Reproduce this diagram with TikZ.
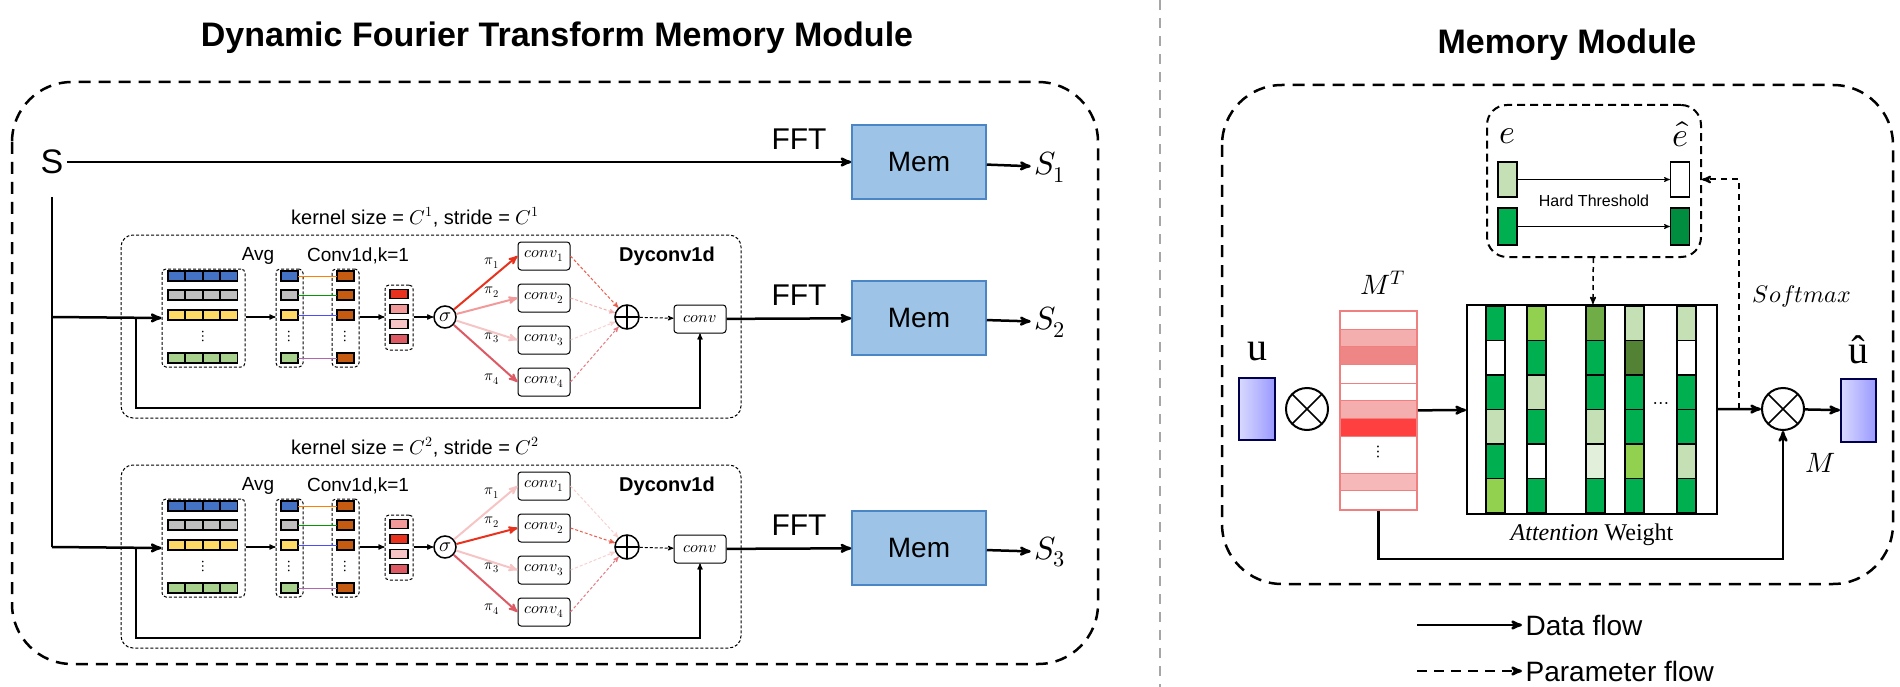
\documentclass[tikz,border=0pt]{standalone}
\usepackage{fontspec}
\usepackage{unicode-math}
\setmainfont{Liberation Sans}
\setmathfont{Latin Modern Math}
\newfontfamily\serif{Liberation Serif}
\usetikzlibrary{arrows,positioning}

\definecolor{memfill}{HTML}{9DC3E6}
\definecolor{memline}{HTML}{4A86C5}
\definecolor{cblue}{HTML}{4472C4}
\definecolor{cgray}{HTML}{BFBFBF}
\definecolor{cyel}{HTML}{FFD966}
\definecolor{cgrn}{HTML}{A9D18E}
\definecolor{cbrown}{HTML}{C55A11}
\definecolor{rstrong}{HTML}{E8321E}
\definecolor{rmid}{HTML}{DD5A64}
\definecolor{rpink}{HTML}{F29A9A}
\definecolor{rlight}{HTML}{F6C4C4}
\definecolor{dk}{HTML}{00B050}
\definecolor{md}{HTML}{92D050}
\definecolor{lt}{HTML}{C5E0B4}
\definecolor{ol}{HTML}{70AD47}
\definecolor{dol}{HTML}{548235}
\definecolor{vl}{HTML}{E2EFDA}
\definecolor{wh}{HTML}{FFFFFF}
\definecolor{mtline}{HTML}{F08080}
\newcommand{\fsz}[1]{\fontsize{#1}{#1}\selectfont}

\begin{document}
\begin{tikzpicture}[x=1pt,y=-1pt,>=stealth',semithick]
	\tikzstyle{mem}=[draw=memline,fill=memfill,line width=1.5pt,minimum width=134pt,minimum height=74pt,font=\fsz{28}]
	\tikzstyle{flow}=[->,line width=2.5pt]
	\tikzstyle{grp}=[draw,densely dashed,rounded corners=4pt,line width=1pt,inner sep=0pt]
	\tikzstyle{ck}=[draw,rounded corners=3pt,line width=1pt,minimum width=52pt,minimum height=28pt,font=\fsz{16},inner sep=0pt]
	\tikzstyle{oplus}=[circle,draw,line width=1.5pt,inner sep=0pt,path picture={\draw[line width=1.5pt] (path picture bounding box.north)--(path picture bounding box.south) (path picture bounding box.west)--(path picture bounding box.east);}]
	\tikzstyle{otimes}=[circle,draw,line width=2pt,inner sep=0pt,minimum size=42pt,path picture={\draw[line width=1.5pt] (path picture bounding box.north west)--(path picture bounding box.south east) (path picture bounding box.south west)--(path picture bounding box.north east);}]
	\useasboundingbox (0,0) rectangle (1900,687);

	% titles and frames
	\node[font=\fsz{34}\bfseries] (t1) at (557,38) {Dynamic Fourier Transform Memory Module};
	\node[font=\fsz{34}\bfseries] (t2) at (1567,45) {Memory Module};
	\draw[gray!70,line width=2pt,dash pattern=on 10pt off 8pt] (1160,0) -- (1160,687);
	\draw[line width=2.5pt,dash pattern=on 12pt off 8pt,rounded corners=60pt] (12,82) rectangle (1098,664);
	\draw[line width=2.5pt,dash pattern=on 12pt off 8pt,rounded corners=60pt] (1222,85) rectangle (1893,584);

	% left module
	\node[font=\fsz{34}] (S) at (52,162) {S};
	\node[mem] (m1) at (919,162) {Mem};
	\node[font=\fsz{30}] (f1) at (799,139) {FFT};
	\node[font=\fsz{32}] (s1) at (1050,167) {$S_1$};
	\draw[flow] (S) -- (m1);
	\draw[flow] (m1) -- (s1);
	\coordinate (b0) at (52,197);
	\coordinate (bend) at (52,547);
	\draw[line width=2.5pt] (b0) -- (bend);

	\foreach \i/\dy/\ra/\rb/\rc/\rd/\pa/\pb/\pc/\pd in
		{1/0/rstrong/rpink/rlight/rmid/rstrong/rpink/rlight/rmid,
		 2/230/rpink/rstrong/rlight/rmid/rlight/rstrong/rlight/rmid}{
	\begin{scope}[yshift=-\dy pt]
		\draw[densely dashed,line width=1pt,rounded corners=12pt] (121,235) rectangle (741,418);
		\node[font=\fsz{20}] (k\i) at (415,217) {kernel size = $C^{\i}$, stride = $C^{\i}$};
		\node[font=\fsz{19}] (avg\i) at (258,256) {Avg};
		\node[font=\fsz{19}] (cd\i) at (358,256) {Conv1d,k=1};
		\node[font=\fsz{20}\bfseries] (dy\i) at (667,256) {Dyconv1d};
		% channel groups
		\node[grp,minimum width=83pt,minimum height=98pt] (g\i) at (203.5,318) {};
		\node[grp,minimum width=27pt,minimum height=98pt] (a\i) at (289.5,318) {};
		\node[grp,minimum width=27pt,minimum height=98pt] (w\i) at (345.5,318) {};
		\node[grp,minimum width=28pt,minimum height=65pt] (r\i) at (399,317.5) {};
		\foreach \yy/\cc/\ll in {276/cblue/orange,295/cgray/green!60!black,315/cyel/blue!70,358/cgrn/violet!60}{
			\foreach \xx in {168,185.5,203,220.5}
				\draw[line width=1.2pt,fill=\cc] (\xx,\yy-5) rectangle +(17,10);
			\draw[line width=1.2pt,fill=\cc] (281,\yy-5) rectangle +(17,10);
			\draw[line width=1.2pt,fill=cbrown] (337,\yy-5) rectangle +(17,10);
			\draw[\ll,line width=0.8pt] (298,\yy) -- (337,\yy);
		}
		\foreach \xx in {203,289.5,345.5}
			\node[font=\fsz{16}] at (\xx,336) {$\vdots$};
		\foreach \yy/\cc in {294/\ra,309/\rb,324/\rc,339/\rd}
			\draw[line width=1.2pt,fill=\cc] (390,\yy-4.5) rectangle +(18,9);
		\node[circle,draw,line width=1.5pt,minimum size=22pt,inner sep=0pt,font=\fsz{20}] (sig\i) at (445,317) {$\sigma$};
		\draw[flow] (52,317) -- (g\i.west);
		\draw[->,line width=1.2pt] (g\i.east |- 0,317) -- (a\i.west |- 0,317);
		\draw[->,line width=1.2pt] (w\i.east |- 0,317) -- (r\i.west |- 0,317);
		\draw[->,line width=1.2pt] (r\i.east |- 0,317) -- (sig\i);
		% dynamic kernels
		\node[oplus,minimum size=24pt] (op\i) at (627,317) {};
		\node[ck] (cv\i) at (700,319) {$conv$};
		\foreach \n/\yy/\py/\cc in {1/256/263/\pa,2/298/292/\pb,3/340/338/\pc,4/382/379/\pd}{
			\node[ck] (c\i\n) at (544,\yy) {$conv_{\n}$};
			\node[font=\fsz{15}] (p\i\n) at (492,\py) {$\pi_{\n}$};
			\draw[->,\cc,line width=2pt] (sig\i) -- (c\i\n.west);
			\draw[->,\cc!80,densely dashed,line width=1pt] (c\i\n.east) -- (op\i);
		}
		\draw[->,densely dashed,line width=1pt] (op\i) -- (cv\i);
		\draw[->,line width=1.2pt] (136,317) -- (136,408) -| (cv\i.south);
		\node[font=\fsz{30}] (ff\i) at (799,295) {FFT};
		\node[mem] (mm\i) at (919,318) {Mem};
		\node[font=\fsz{32}] (ss\i) at (1050,322) {$S_{\the\numexpr\i+1\relax}$};
		\draw[flow] (cv\i) -- (mm\i);
		\draw[flow] (mm\i) -- (ss\i);
	\end{scope}
	}

	% memory module
	\node[grp,dash pattern=on 8pt off 5pt,line width=2pt,rounded corners=20pt,minimum width=214pt,minimum height=152pt] (ht) at (1594,181) {};
	\node[font=\fsz{34}] (e) at (1507,136) {$e$};
	\node[font=\fsz{34}] (eh) at (1680,134) {$\hat{e}$};
	\node[draw,line width=1.5pt,fill=lt,minimum width=19pt,minimum height=35pt,inner sep=0pt] (e1) at (1507.5,179.5) {};
	\node[draw,line width=1.5pt,fill=dk,minimum width=19pt,minimum height=37pt,inner sep=0pt] (e2) at (1507.5,226.5) {};
	\node[draw,line width=1.5pt,fill=white,minimum width=19pt,minimum height=35pt,inner sep=0pt] (h1) at (1680,179.5) {};
	\node[draw,line width=1.5pt,fill=dk!80!black,minimum width=19pt,minimum height=37pt,inner sep=0pt] (h2) at (1680,226.5) {};
	\draw[->,line width=1pt] (e1) -- (h1);
	\draw[->,line width=1pt] (e2) -- (h2);
	\node[font=\fsz{16}] (hl) at (1594,201) {Hard Threshold};

	% attention weight matrix
	\node[draw,line width=2pt,minimum width=250pt,minimum height=209pt,inner sep=0pt] (aw) at (1592,409.5) {};
	\foreach \cx/\cl in {1486/{dk,wh,dk,lt,dk,md},1527/{md,dk,lt,dk,wh,dk},1586/{ol,dk,dk,lt,vl,dk},1625/{lt,dol,dk,dk,md,dk},1677/{lt,wh,dk,dk,lt,dk}}
		\foreach \cc [count=\r from 0] in \cl
			\draw[line width=1.5pt,fill=\cc] (\cx,306+34.5*\r) rectangle +(19,34.5);
	\node[font=\fsz{20}] (dd) at (1661,405) {$\cdots$};
	\node[font=\fsz{24}\serif] (awl) at (1592,535) {\itshape Attention\upshape\ Weight};
	\draw[->,dash pattern=on 5pt off 4pt,line width=1.5pt] (ht) -- (aw);

	% M^T
	\foreach \ya/\yb/\cc in {311/329/white,329/346/rpink!80,346/364/rpink!120,364/383/white,383/400/white,400/418/rpink!80,418/436/red!75,436/473/white,473/490/rpink!70,490/510/white}
		\fill[\cc] (1340,\ya) rectangle (1417,\yb);
	\node[draw=mtline,line width=1.5pt,minimum width=77pt,minimum height=199pt,inner sep=0pt] (mt) at (1378.5,410.5) {};
	\foreach \yy in {329,346,364,383,400,418,436,473,490}
		\draw[mtline,line width=0.8pt] (1340,\yy) -- (1417,\yy);
	\node[font=\fsz{18}] (mdots) at (1378.5,452) {$\vdots$};
	\node[font=\fsz{28}] (mtl) at (1383,283) {$M^T$};

	\node[draw=blue!30!black,line width=2pt,left color=blue!15,right color=blue!40,minimum width=36pt,minimum height=62pt,inner sep=0pt] (u) at (1257,409) {};
	\node[font=\fsz{40}\serif] (ul) at (1257,352) {u};
	\node[otimes] (o1) at (1307,409) {};
	\node[otimes] (o2) at (1783,409) {};
	\node[draw=blue!30!black,line width=2pt,left color=blue!15,right color=blue!40,minimum width=35pt,minimum height=63pt,inner sep=0pt] (uh) at (1858.5,410.5) {};
	\node[font=\fsz{40}\serif] (uhl) at (1858,350) {û};
	\node[font=\fsz{28}] (ml) at (1820,463) {$M$};
	\node[font=\fsz{24}] (sm) at (1802,296) {$Softmax$};

	\draw[flow] (mt) -- (aw);
	\draw[flow] (aw) -- (o2);
	\draw[flow] (o2) -- (uh);
	\coordinate (sp) at (1739,409);
	\draw[->,dash pattern=on 6pt off 5pt,line width=2pt] (sp) |- (ht.east |- h1);
	\draw[->,line width=2.5pt] (mt.south) -- (1378.5,559) -| (o2.south);

	% legend
	\coordinate (l1) at (1417,625);
	\coordinate (l2) at (1417,671);
	\node[font=\fsz{28},anchor=west] (dl) at (1522,625) {Data flow};
	\node[font=\fsz{28},anchor=west] (pl) at (1522,671) {Parameter flow};
	\draw[flow] (l1) -- (dl.west);
	\draw[->,line width=2.5pt,dash pattern=on 10pt off 7pt] (l2) -- (pl.west);
\end{tikzpicture}
\end{document}
